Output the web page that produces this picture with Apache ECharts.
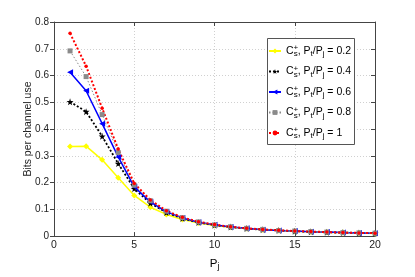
<!DOCTYPE html>
<html><head><meta charset="utf-8">
<script src="https://cdn.jsdelivr.net/npm/echarts@6/dist/echarts.min.js"></script>
<style>html,body{margin:0;padding:0;background:#fff}#c{width:415px;height:277px}</style>
</head><body><div id="c"></div>
<script>
var xValues = [1,2,3,4,5,6,7,8,9,10,11,12,13,14,15,16,17,18,19,20];
var ratios = ['0.2','0.4','0.6','0.8','1'];
var y02 = [0.335,0.336,0.285,0.218,0.152,0.108,0.081,0.062,0.049,0.040,0.033,0.028,0.024,0.021,0.018,0.016,0.014,0.013,0.012,0.010];
var y04 = [0.502,0.465,0.373,0.271,0.177,0.123,0.088,0.066,0.051,0.041,0.034,0.028,0.024,0.021,0.018,0.016,0.014,0.013,0.012,0.011];
var y06 = [0.612,0.543,0.420,0.296,0.184,0.128,0.091,0.068,0.052,0.042,0.034,0.029,0.024,0.021,0.019,0.016,0.015,0.013,0.012,0.011];
var y08 = [0.692,0.596,0.454,0.312,0.190,0.132,0.093,0.069,0.053,0.042,0.035,0.029,0.025,0.021,0.019,0.017,0.015,0.013,0.012,0.011];
var y10 = [0.758,0.635,0.478,0.325,0.197,0.135,0.095,0.070,0.054,0.043,0.035,0.029,0.025,0.022,0.019,0.017,0.015,0.013,0.012,0.011];
var xTicks = [0,5,10,15,20];
var yTicks = [0,0.1,0.2,0.3,0.4,0.5,0.6,0.7,0.8];

var FONT = '"Liberation Sans", Arial, sans-serif';
var star = 'path://M50,0 L61,35 L98,35 L68,57 L79,91 L50,70 L21,91 L32,57 L2,35 L39,35 Z';
function pts(arr){ return arr.map(function(v,i){ return [xValues[i], v]; }); }

var seriesDefs = [
  {r:'0.2', d:y02, color:'#ffff00', type:'solid', w:1.5, sym:'diamond', size:6, rot:0},
  {r:'0.4', d:y04, color:'#000000', type:[2,2], w:1.8, sym:star, size:7, rot:0},
  {r:'0.6', d:y06, color:'#0000ff', type:'solid', w:1.5, sym:'triangle', size:6, rot:90},
  {r:'0.8', d:y08, color:'#8a8a8a', type:[1.5,2], w:1, sym:'rect', size:5, rot:0},
  {r:'1', d:y10, color:'#ff0000', type:[2,2], w:2, sym:'circle', size:3.5, rot:0}
];

var rich = {
  m:{fontFamily:FONT,fontSize:10.5,color:'#000',lineHeight:16,height:16,verticalAlign:'middle'},
  sub:{fontFamily:FONT,fontSize:8,color:'#000',verticalAlign:'bottom',height:10,lineHeight:10},
  sup:{fontFamily:FONT,fontSize:8,color:'#000',verticalAlign:'top',height:10,lineHeight:10,width:0.1}
};
var xrich = {
  m:{fontFamily:FONT,fontSize:11.5,color:'#000',lineHeight:16,height:16,verticalAlign:'middle'},
  sub:{fontFamily:FONT,fontSize:8.5,color:'#000',verticalAlign:'bottom',height:10,lineHeight:10}
};

var series = seriesDefs.map(function(s){
  return {
    name: s.r, type:'line', data: pts(s.d),
    symbol: s.sym, symbolSize: s.size, symbolRotate: s.rot,
    lineStyle:{color:s.color, width:s.w, type:s.type},
    itemStyle:{color:s.color, borderWidth:0},
    xAxisIndex:0, yAxisIndex:0, animation:false
  };
});

var chart = echarts.init(document.getElementById('c'), null, {renderer:'canvas'});
chart.setOption({
  backgroundColor:'#fff',
  animation:false,
  grid:{left:54, top:22, width:321, height:224},
  graphic:[{
    type:'rect', left:267, top:38, z:50,
    shape:{x:0,y:0,width:87,height:106},
    style:{fill:'#fff', stroke:'#555', lineWidth:1}
  }],
  xAxis:[{
    type:'value', min:0, max:20, interval:5, position:'bottom',
    name:'{m|P}{sub|j}', nameLocation:'middle', nameGap:12,
    nameTextStyle:{rich:xrich},
    axisLine:{show:true,lineStyle:{color:'#444',width:1}},
    axisTick:{show:true,inside:true,length:4,lineStyle:{color:'#444'}},
    axisLabel:{fontFamily:FONT,fontSize:10.5,color:'#222',margin:4},
    splitLine:{show:true,lineStyle:{color:'#d0d0d0',type:[1,2],width:1}}
  },{
    type:'value', min:0, max:20, interval:5, position:'top',
    axisLine:{show:true,onZero:false,lineStyle:{color:'#444',width:1}},
    axisTick:{show:true,inside:true,length:4,lineStyle:{color:'#444'}},
    axisLabel:{show:false}, splitLine:{show:false}
  }],
  yAxis:[{
    type:'value', min:0, max:0.8, interval:0.1, position:'left',
    name:'Bits per channel use', nameLocation:'middle', nameGap:20,
    nameMoveOverlap:false,
    nameTextStyle:{fontFamily:FONT,fontSize:10.5,color:'#222'},
    axisLine:{show:true,lineStyle:{color:'#444',width:1}},
    axisTick:{show:true,inside:false,length:4,lineStyle:{color:'#444'}},
    axisLabel:{fontFamily:FONT,fontSize:10,color:'#222',margin:5},
    splitLine:{show:true,lineStyle:{color:'#d0d0d0',type:[1,2],width:1}}
  },{
    type:'value', min:0, max:0.8, interval:0.1, position:'right',
    axisLine:{show:true,onZero:false,lineStyle:{color:'#444',width:1}},
    axisTick:{show:true,inside:true,length:4,lineStyle:{color:'#444'}},
    axisLabel:{show:false}, splitLine:{show:false}
  }],
  legend:{
    left:268, top:43, orient:'vertical', z:60,
    itemWidth:12, itemHeight:6, itemGap:4.5,
    padding:0,
    data: ratios,
    formatter:function(n){
      return '{m|C}{sup|+}{sub|s}{m|, P}{sub|t}{m|/P}{sub|j}{m| = ' + n + '}';
    },
    textStyle:{rich:rich}
  },
  series: series
});
</script></body></html>
